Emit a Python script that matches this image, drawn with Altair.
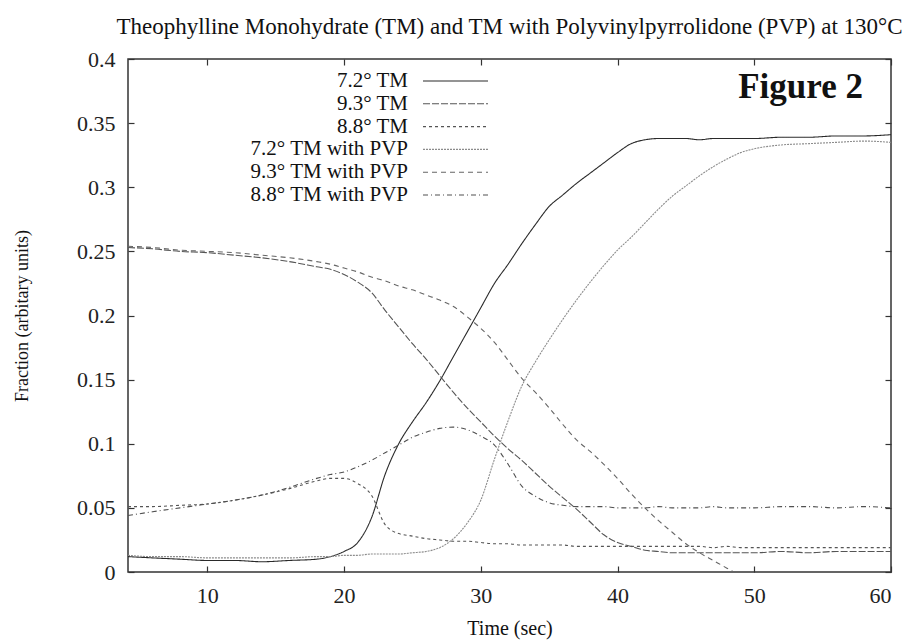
import altair as alt
import pandas as pd

# time grid (sec)
T = [4.2, 6, 8, 10, 12, 14, 16, 18, 19, 20, 21, 22, 23, 24, 25, 26, 27, 28, 29, 30,
     31, 32, 33, 34, 35, 36, 37, 38, 39, 40, 41, 42, 43, 44, 45, 46, 47, 48, 49, 50,
     52, 54, 56, 58, 60]

names = ["7.2° TM", "9.3° TM", "8.8° TM",
         "7.2° TM with PVP", "9.3° TM with PVP", "8.8° TM with PVP"]

tm72 = [0.012, 0.011, 0.010, 0.009, 0.009, 0.008, 0.009, 0.010, 0.012, 0.016,
        0.023, 0.042, 0.076, 0.100, 0.117, 0.132, 0.149, 0.168, 0.187, 0.206,
        0.225, 0.240, 0.256, 0.271, 0.285, 0.294, 0.303, 0.311, 0.319, 0.327,
        0.334, 0.337, 0.338, 0.338, 0.338, 0.337, 0.338, 0.338, 0.338, 0.338,
        0.339, 0.339, 0.340, 0.340, 0.341]

tm93 = [0.253, 0.252, 0.250, 0.249, 0.247, 0.245, 0.242, 0.238, 0.236, 0.232,
        0.226, 0.218, 0.204, 0.191, 0.178, 0.166, 0.153, 0.140, 0.128, 0.117,
        0.106, 0.096, 0.087, 0.077, 0.067, 0.058, 0.049, 0.039, 0.029, 0.023,
        0.020, 0.017, 0.016, 0.015, 0.015, 0.015, 0.015, 0.015, 0.015, 0.015,
        0.016, 0.015, 0.016, 0.016, 0.016]

tm88 = [0.051, 0.051, 0.052, 0.053, 0.056, 0.060, 0.065, 0.071, 0.073, 0.073,
        0.069, 0.060, 0.037, 0.030, 0.028, 0.026, 0.025, 0.024, 0.024, 0.023,
        0.022, 0.022, 0.021, 0.021, 0.021, 0.021, 0.020, 0.020, 0.020, 0.020,
        0.020, 0.020, 0.020, 0.020, 0.020, 0.020, 0.019, 0.020, 0.019, 0.019,
        0.019, 0.019, 0.019, 0.019, 0.019]

pvp72 = [0.013, 0.012, 0.012, 0.011, 0.011, 0.011, 0.011, 0.012, 0.012, 0.013,
         0.013, 0.014, 0.014, 0.014, 0.015, 0.016, 0.019, 0.026, 0.038, 0.056,
         0.088, 0.118, 0.145, 0.164, 0.181, 0.197, 0.212, 0.226, 0.239, 0.251,
         0.261, 0.272, 0.283, 0.293, 0.301, 0.309, 0.316, 0.322, 0.327, 0.330,
         0.333, 0.334, 0.335, 0.336, 0.335]

pvp93 = [0.254, 0.253, 0.251, 0.250, 0.249, 0.247, 0.245, 0.242, 0.240, 0.237,
         0.234, 0.230, 0.227, 0.223, 0.220, 0.216, 0.212, 0.207, 0.199, 0.190,
         0.179, 0.165, 0.151, 0.140, 0.128, 0.115, 0.103, 0.094, 0.084, 0.073,
         0.061, 0.050, 0.040, 0.031, 0.022, 0.015, 0.009, 0.003, -0.003, None,
         None, None, None, None, None]

pvp88 = [0.044, 0.047, 0.050, 0.053, 0.056, 0.060, 0.066, 0.073, 0.076, 0.078,
         0.082, 0.087, 0.093, 0.099, 0.105, 0.109, 0.112, 0.113, 0.111, 0.106,
         0.099, 0.084, 0.067, 0.059, 0.054, 0.052, 0.051, 0.051, 0.051, 0.050,
         0.050, 0.050, 0.051, 0.050, 0.050, 0.050, 0.051, 0.050, 0.050, 0.050,
         0.051, 0.051, 0.050, 0.051, 0.050]

series_vals = [tm72, tm93, tm88, pvp72, pvp93, pvp88]

x_ticks = [10, 20, 30, 40, 50, 60]
y_ticks = [0, 0.05, 0.1, 0.15, 0.2, 0.25, 0.3, 0.35, 0.4]

colors = ["#2a2a2a", "#555555", "#555555", "#8c8c8c", "#666666", "#505050"]
dashes = [[1, 0], [7, 2], [3, 3], [2, 1], [5, 4], [5, 3, 1, 3]]

rows = []
for name, vals in zip(names, series_vals):
    for t, v in zip(T, vals):
        if v is not None:
            rows.append({"series": name, "t": t, "v": v})
df = pd.DataFrame(rows)

legend_df = pd.DataFrame({"series": names, "row": list(range(len(names)))})
fig_df = pd.DataFrame({"label": ["Figure 2"]})

FONT = "Liberation Serif"
xdom = [4.2, 60]
ydom = [0, 0.4]

color_enc = alt.Color("series:N", scale=alt.Scale(domain=names, range=colors), legend=None)
dash_enc = alt.StrokeDash("series:N", scale=alt.Scale(domain=names, range=dashes), legend=None)

lines = alt.Chart(df).mark_line(clip=True, strokeWidth=1.1, interpolate="monotone").encode(
    x=alt.X("t:Q", scale=alt.Scale(domain=xdom, nice=False, zero=False),
            axis=alt.Axis(values=x_ticks, tickSize=6, offset=-6, domain=False, grid=False,
                          labelFontSize=22, labelFont=FONT, labelColor="#222",
                          labelPadding=13, tickColor="#333", tickWidth=1.2,
                          title="Time (sec)", titleFont=FONT, titleFontSize=20,
                          titleFontWeight="normal", titlePadding=12, titleColor="#111")),
    y=alt.Y("v:Q", scale=alt.Scale(domain=ydom, nice=False, zero=False),
            axis=alt.Axis(values=y_ticks, format="~g", tickSize=6, offset=-6, domain=False,
                          grid=False, labelFontSize=22, labelFont=FONT, labelColor="#222",
                          labelPadding=13, tickColor="#333", tickWidth=1.2,
                          title="Fraction (arbitary units)", titleFont=FONT,
                          titleFontSize=18, titleFontWeight="normal", titlePadding=45,
                          titleColor="#111")),
    color=color_enc,
    strokeDash=dash_enc,
)

mirror = alt.Chart(df).mark_point(opacity=0).encode(
    x=alt.X("t:Q", scale=alt.Scale(domain=xdom, nice=False, zero=False),
            axis=alt.Axis(orient="top", values=x_ticks, labels=False, tickSize=6, offset=-6,
                          domain=False, grid=False, title=None, tickColor="#333",
                          tickWidth=1.2)),
    y=alt.Y("v:Q", scale=alt.Scale(domain=ydom, nice=False, zero=False),
            axis=alt.Axis(orient="right", values=y_ticks, labels=False, tickSize=6, offset=-6,
                          domain=False, grid=False, title=None, tickColor="#333",
                          tickWidth=1.2)),
)

leg_y = alt.Y("row:Q", scale=alt.Scale(domain=[0, 5], range=[22, 136]), axis=None)

leg_text = alt.Chart(legend_df).mark_text(align="right", baseline="middle", font=FONT,
                                          fontSize=21, color="#111").encode(
    x=alt.value(280), y=leg_y, text="series:N")

leg_rule = alt.Chart(legend_df).mark_rule(strokeWidth=1.1).encode(
    x=alt.value(295), x2=alt.value(360), y=leg_y, color=color_enc, strokeDash=dash_enc)

fig_label = alt.Chart(fig_df).mark_text(align="right", baseline="alphabetic", font=FONT,
                                        fontSize=35, fontWeight="bold", color="#111").encode(
    x=alt.value(735), y=alt.value(39), text="label:N")

chart = alt.layer(lines, mirror, leg_rule, leg_text, fig_label).resolve_scale(
    x="independent", y="independent"
).properties(
    width=763, height=513,
    title=alt.Title("Theophylline Monohydrate (TM) and TM with Polyvinylpyrrolidone (PVP) at 130°C",
                    font=FONT, fontSize=23, fontWeight="normal", color="#111",
                    anchor="middle", offset=9),
    padding={"left": 120, "top": 51, "right": 12, "bottom": 74},
    autosize=alt.AutoSizeParams(type="none"),
    background="white",
).configure_view(stroke="#333", strokeWidth=1.5)

chart.save("out.html", embed_options={"renderer": "svg", "actions": False})
